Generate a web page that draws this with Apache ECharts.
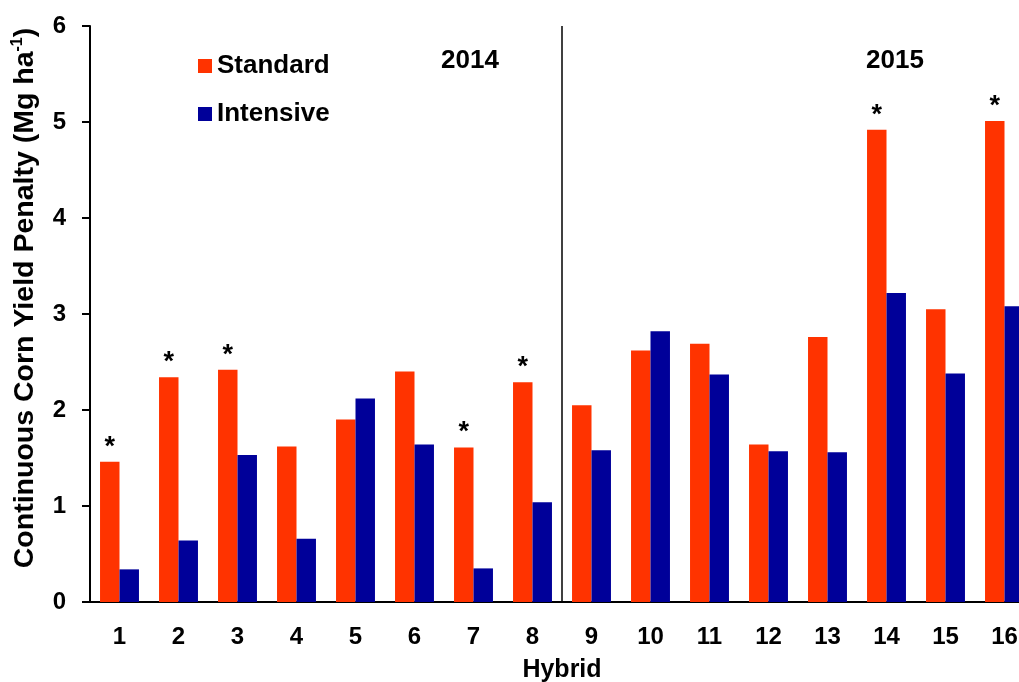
<!DOCTYPE html>
<html>
<head>
<meta charset="utf-8">
<script src="https://cdn.jsdelivr.net/npm/echarts@6/dist/echarts.min.js"></script>
<style>
  html, body { margin: 0; padding: 0; background: #fff; overflow: hidden; }
  /* the plot runs a little past the right edge of the window */
  #chart { width: 1040px; height: 682px; }
</style>
</head>
<body>
<div id="chart"></div>
<script>
// Continuous corn yield penalty by hybrid, two management systems
const hybrids = ['1', '2', '3', '4', '5', '6', '7', '8', '9', '10', '11', '12', '13', '14', '15', '16'];
const standard = [1.46, 2.34, 2.42, 1.62, 1.90, 2.40, 1.61, 2.29, 2.05, 2.62, 2.69, 1.64, 2.76, 4.92, 3.05, 5.01];
const intensive = [0.34, 0.64, 1.53, 0.66, 2.12, 1.64, 0.35, 1.04, 1.58, 2.82, 2.37, 1.57, 1.56, 3.22, 2.38, 3.08];
// hybrids with a significant penalty under standard management
const significant = [true, true, true, false, false, false, true, true, false, false, false, false, false, true, false, true];
const seasons = ['2014', '2015'];
const seasonBreak = 8;   // hybrids 1-8 grown in 2014, 9-16 in 2015
const yMin = 0, yMax = 6, yStep = 1;

const FONT = '"Liberation Sans", Arial, Helvetica, sans-serif';
const ORANGE = '#ff3300';
const NAVY = '#000099';

const chart = echarts.init(document.getElementById('chart'));

chart.setOption({
  backgroundColor: '#ffffff',
  animation: false,
  textStyle: { fontFamily: FONT, color: '#000' },
  grid: { left: 90, top: 26, width: 944, height: 576, containLabel: false, outerBoundsMode: 'none' },
  legend: {
    data: ['Standard', 'Intensive'],
    orient: 'vertical',
    left: 193,
    top: 48,
    itemWidth: 14,
    itemHeight: 14,
    itemGap: 22,
    icon: 'rect',
    textStyle: { fontFamily: FONT, fontSize: 26, fontWeight: 'bold', color: '#000' }
  },
  xAxis: [
    {
      type: 'category',
      data: hybrids,
      name: 'Hybrid',
      nameLocation: 'middle',
      nameGap: 56,
      nameTextStyle: { fontFamily: FONT, fontSize: 25, fontWeight: 'bold', color: '#000' },
      axisLine: { lineStyle: { color: '#000', width: 2 } },
      axisTick: { show: false },
      axisLabel: { margin: 23, fontFamily: FONT, fontSize: 24, fontWeight: 'bold', color: '#000' },
      splitLine: { show: false }
    },
    {
      type: 'value',
      min: 0,
      max: hybrids.length,
      show: false
    }
  ],
  yAxis: {
    type: 'value',
    min: yMin,
    max: yMax,
    interval: yStep,
    axisLine: { show: true, lineStyle: { color: '#000', width: 2 } },
    axisTick: { show: true, inside: false, length: 8, lineStyle: { color: '#000', width: 2 } },
    axisLabel: { margin: 24, fontFamily: FONT, fontSize: 24, fontWeight: 'bold', color: '#000' },
    splitLine: { show: false }
  },
  series: [
    {
      name: 'Standard',
      type: 'bar',
      data: standard,
      barGap: '0%',
      barCategoryGap: '34%',
      itemStyle: { color: ORANGE },
      label: {
        show: true,
        position: 'top',
        distance: 1,
        fontFamily: FONT,
        fontSize: 27,
        fontWeight: 'bold',
        color: '#000',
        formatter: p => (significant[p.dataIndex] ? '*' : '')
      }
    },
    {
      name: 'Intensive',
      type: 'bar',
      data: intensive,
      itemStyle: { color: NAVY }
    },
    {
      name: 'season-break',
      type: 'line',
      xAxisIndex: 1,
      yAxisIndex: 0,
      data: [[seasonBreak, yMin], [seasonBreak, yMax]],
      symbol: 'none',
      lineStyle: { color: '#000', width: 1.5 },
      silent: true
    }
  ],
  graphic: [
    {
      // y-axis title, reading bottom to top
      type: 'text',
      x: 25,
      y: 298,
      rotation: Math.PI / 2,
      style: {
        text: '{a|Continuous Corn Yield Penalty (Mg ha}{s|-1}{a|)}',
        align: 'center',
        verticalAlign: 'middle',
        rich: {
          a: { fontFamily: FONT, fontSize: 28.5, fontWeight: 'bold', fill: '#000', color: '#000' },
          s: { fontFamily: FONT, fontSize: 16, fontWeight: 'bold', fill: '#000', color: '#000', verticalAlign: 'top', lineHeight: 30 }
        }
      }
    },
    {
      type: 'text',
      left: 441,
      top: 48,
      style: { text: seasons[0], font: 'bold 26px ' + FONT, fill: '#000' }
    },
    {
      type: 'text',
      left: 866,
      top: 48,
      style: { text: seasons[1], font: 'bold 26px ' + FONT, fill: '#000' }
    }
  ]
});
</script>
</body>
</html>
